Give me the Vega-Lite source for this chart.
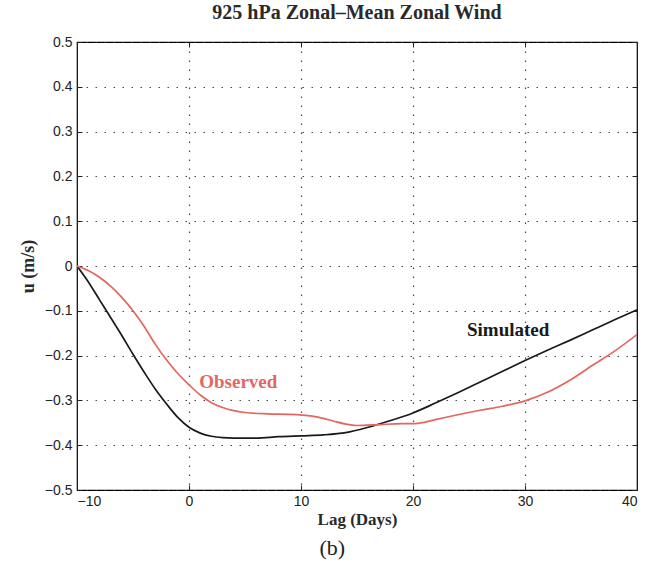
{
  "$schema": "https://vega.github.io/schema/vega-lite/v6.json",
  "width": 560,
  "height": 448,
  "autosize": "none",
  "padding": {"left": 77, "top": 42, "right": 11, "bottom": 80},
  "background": "white",
  "config": {
    "view": {"stroke": "black", "strokeWidth": 1.2},
    "axis": {
      "labelFont": "Liberation Sans",
      "labelFontSize": 14,
      "labelColor": "#222",
      "titleFont": "Liberation Serif",
      "titleFontSize": 17,
      "titleFontWeight": "bold",
      "titleColor": "#2a2a2a",
      "domain": false,
      "tickColor": "#222",
      "tickSize": -5,
      "gridColor": "#333",
      "gridDash": [1.5, 7.5],
      "gridOpacity": 0.9,
      "gridWidth": 1.2
    }
  },
  "title": {
    "text": "925 hPa Zonal\u2013Mean Zonal Wind",
    "font": "Liberation Serif",
    "fontSize": 20,
    "fontWeight": "bold",
    "color": "#2a2a2a",
    "anchor": "middle",
    "offset": 12
  },
  "datasets": {
    "curves": [
      {"lag": -10, "u": 0, "series": "Simulated"},
      {"lag": -9, "u": -0.035, "series": "Simulated"},
      {"lag": -8, "u": -0.075, "series": "Simulated"},
      {"lag": -7, "u": -0.115, "series": "Simulated"},
      {"lag": -6, "u": -0.155, "series": "Simulated"},
      {"lag": -5, "u": -0.197, "series": "Simulated"},
      {"lag": -4, "u": -0.237, "series": "Simulated"},
      {"lag": -3, "u": -0.275, "series": "Simulated"},
      {"lag": -2, "u": -0.308, "series": "Simulated"},
      {"lag": -1, "u": -0.338, "series": "Simulated"},
      {"lag": 0, "u": -0.36, "series": "Simulated"},
      {"lag": 1, "u": -0.373, "series": "Simulated"},
      {"lag": 2, "u": -0.38, "series": "Simulated"},
      {"lag": 3, "u": -0.383, "series": "Simulated"},
      {"lag": 4, "u": -0.384, "series": "Simulated"},
      {"lag": 6, "u": -0.384, "series": "Simulated"},
      {"lag": 8, "u": -0.381, "series": "Simulated"},
      {"lag": 10, "u": -0.379, "series": "Simulated"},
      {"lag": 12, "u": -0.377, "series": "Simulated"},
      {"lag": 14, "u": -0.372, "series": "Simulated"},
      {"lag": 16, "u": -0.36, "series": "Simulated"},
      {"lag": 18, "u": -0.345, "series": "Simulated"},
      {"lag": 20, "u": -0.328, "series": "Simulated"},
      {"lag": 22, "u": -0.306, "series": "Simulated"},
      {"lag": 24, "u": -0.283, "series": "Simulated"},
      {"lag": 26, "u": -0.259, "series": "Simulated"},
      {"lag": 28, "u": -0.235, "series": "Simulated"},
      {"lag": 30, "u": -0.211, "series": "Simulated"},
      {"lag": 32, "u": -0.188, "series": "Simulated"},
      {"lag": 34, "u": -0.166, "series": "Simulated"},
      {"lag": 36, "u": -0.143, "series": "Simulated"},
      {"lag": 38, "u": -0.12, "series": "Simulated"},
      {"lag": 40, "u": -0.098, "series": "Simulated"},
      {"lag": -10, "u": 0, "series": "Observed"},
      {"lag": -9, "u": -0.01, "series": "Observed"},
      {"lag": -8, "u": -0.025, "series": "Observed"},
      {"lag": -7, "u": -0.045, "series": "Observed"},
      {"lag": -6, "u": -0.07, "series": "Observed"},
      {"lag": -5, "u": -0.1, "series": "Observed"},
      {"lag": -4, "u": -0.135, "series": "Observed"},
      {"lag": -3, "u": -0.175, "series": "Observed"},
      {"lag": -2, "u": -0.21, "series": "Observed"},
      {"lag": -1, "u": -0.24, "series": "Observed"},
      {"lag": 0, "u": -0.265, "series": "Observed"},
      {"lag": 1, "u": -0.288, "series": "Observed"},
      {"lag": 2, "u": -0.305, "series": "Observed"},
      {"lag": 3, "u": -0.316, "series": "Observed"},
      {"lag": 4, "u": -0.323, "series": "Observed"},
      {"lag": 5, "u": -0.327, "series": "Observed"},
      {"lag": 7, "u": -0.33, "series": "Observed"},
      {"lag": 9, "u": -0.331, "series": "Observed"},
      {"lag": 11, "u": -0.335, "series": "Observed"},
      {"lag": 12, "u": -0.34, "series": "Observed"},
      {"lag": 13, "u": -0.347, "series": "Observed"},
      {"lag": 14, "u": -0.353, "series": "Observed"},
      {"lag": 15, "u": -0.356, "series": "Observed"},
      {"lag": 17, "u": -0.354, "series": "Observed"},
      {"lag": 19, "u": -0.352, "series": "Observed"},
      {"lag": 20, "u": -0.352, "series": "Observed"},
      {"lag": 21, "u": -0.349, "series": "Observed"},
      {"lag": 22, "u": -0.343, "series": "Observed"},
      {"lag": 24, "u": -0.332, "series": "Observed"},
      {"lag": 26, "u": -0.322, "series": "Observed"},
      {"lag": 28, "u": -0.313, "series": "Observed"},
      {"lag": 30, "u": -0.301, "series": "Observed"},
      {"lag": 32, "u": -0.282, "series": "Observed"},
      {"lag": 34, "u": -0.255, "series": "Observed"},
      {"lag": 36, "u": -0.222, "series": "Observed"},
      {"lag": 38, "u": -0.19, "series": "Observed"},
      {"lag": 40, "u": -0.153, "series": "Observed"}
    ],
    "labels": [
      {"lag": 28.5, "u": -0.143, "text": "Simulated", "series": "Simulated"},
      {"lag": 4.4, "u": -0.258, "text": "Observed", "series": "Observed"}
    ],
    "caption": [
      {"lag": 12.8, "u": -0.63, "text": "(b)"}
    ]
  },
  "resolve": {"axis": {"x": "independent", "y": "independent"}},
  "layer": [
    {
      "data": {"name": "curves"},
      "mark": {"type": "line", "strokeWidth": 1.7, "interpolate": "monotone", "clip": true},
      "encoding": {
        "x": {
          "field": "lag", "type": "quantitative",
          "scale": {"domain": [-10, 40], "nice": false, "zero": false},
          "axis": {"values": [-10, 0, 10, 20, 30, 40], "title": "Lag (Days)", "grid": true, "labelPadding": 9, "titlePadding": 3}
        },
        "y": {
          "field": "u", "type": "quantitative",
          "scale": {"domain": [-0.5, 0.5], "nice": false, "zero": false},
          "axis": {"values": [-0.5, -0.4, -0.3, -0.2, -0.1, 0, 0.1, 0.2, 0.3, 0.4, 0.5], "format": "~g", "title": "u (m/s)", "titleFontSize": 18, "grid": true, "labelPadding": 10, "titlePadding": 7}
        },
        "color": {
          "field": "series", "type": "nominal",
          "scale": {"domain": ["Simulated", "Observed"], "range": ["#1a1a1a", "#e4665e"]},
          "legend": null
        },
        "detail": {"field": "series"}
      }
    },
    {
      "data": {"name": "labels"},
      "mark": {"type": "text", "font": "Liberation Serif", "fontSize": 19, "fontWeight": "bold", "align": "center", "baseline": "middle"},
      "encoding": {
        "x": {
          "field": "lag", "type": "quantitative",
          "axis": {"orient": "top", "values": [-10, 0, 10, 20, 30, 40], "labels": false, "title": null, "grid": false}
        },
        "y": {
          "field": "u", "type": "quantitative",
          "axis": {"orient": "right", "values": [-0.5, -0.4, -0.3, -0.2, -0.1, 0, 0.1, 0.2, 0.3, 0.4, 0.5], "labels": false, "title": null, "grid": false}
        },
        "text": {"field": "text"},
        "color": {"field": "series", "type": "nominal", "legend": null}
      }
    },
    {
      "data": {"name": "caption"},
      "mark": {"type": "text", "font": "Liberation Serif", "fontSize": 22, "color": "#222", "align": "center", "baseline": "middle", "clip": false},
      "encoding": {
        "x": {"field": "lag", "type": "quantitative", "axis": null},
        "y": {"field": "u", "type": "quantitative", "axis": null},
        "text": {"field": "text"}
      }
    }
  ]
}
